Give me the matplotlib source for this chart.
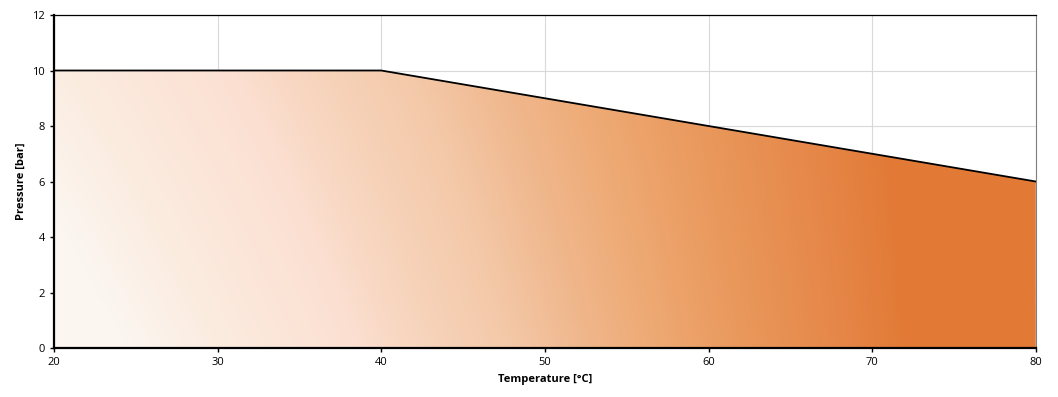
import numpy as np
import matplotlib
matplotlib.use('Agg')
from matplotlib import pyplot as plt
from matplotlib.colors import LinearSegmentedColormap
from matplotlib.patches import Polygon

# Operating limit: pressure vs temperature.
temps = [20, 40, 80]
pressure = [10, 10, 6]
x_ticks = [20, 30, 40, 50, 60, 70, 80]
y_ticks = [0, 2, 4, 6, 8, 10, 12]

plt.rcParams['font.family'] = ['Open Sans', 'DejaVu Sans']

fig = plt.figure(figsize=(10.58, 3.97), dpi=100)
ax = fig.add_axes([0.051, 0.1234, 0.928, 0.8388])

# Gradient fill under the line (mostly left->right, a bit darker at top left).
cmap = LinearSegmentedColormap.from_list('warm', [
    (0.00, '#fcf6f1'), (0.10, '#fbece0'), (0.25, '#fce0d2'),
    (0.33, '#f7d4bc'), (0.42, '#f4c9a9'), (0.50, '#f0b88e'),
    (0.58, '#eeaa75'), (0.67, '#ea9a5e'), (0.78, '#e6884a'),
    (0.86, '#e27a36'), (1.00, '#e27a36')])
xf, yf = np.meshgrid(np.linspace(0, 1, 400), np.linspace(0, 1, 200))
t = np.clip(xf + 0.2 * (yf - 0.38) * (1 - xf), 0, 1)
img = ax.imshow(t, cmap=cmap, vmin=0, vmax=1, aspect='auto',
                extent=[20, 80, 0, 12], origin='lower', zorder=2)
poly = Polygon(list(zip(temps, pressure)) + [(temps[-1], 0), (temps[0], 0)],
               closed=True, facecolor='none', edgecolor='none')
ax.add_patch(poly)
img.set_clip_path(poly)
ax.plot(temps, pressure, c='black', lw=1.3, zorder=3)

# Format plot.
ax.set_xlim(20, 80)
ax.set_ylim(0, 12)
ax.set_xticks(x_ticks)
ax.set_yticks(y_ticks)
ax.grid(True, color='#d9d9d9', lw=0.8, zorder=0)
ax.set_axisbelow(True)
ax.tick_params(axis='both', labelsize=8, length=3, width=1, direction='out')
ax.set_xlabel('Temperature [°C]', fontsize=8, fontweight='bold')
ax.set_ylabel('Pressure [bar]', fontsize=8, fontweight='bold')
for side in ['left', 'bottom']:
    ax.spines[side].set_linewidth(1.6)
    ax.spines[side].set_zorder(4)
ax.spines['top'].set_linewidth(0.9)
ax.spines['right'].set_color('#7f7f7f')
ax.spines['right'].set_linewidth(0.8)

fig.savefig('out.png', dpi=100)
